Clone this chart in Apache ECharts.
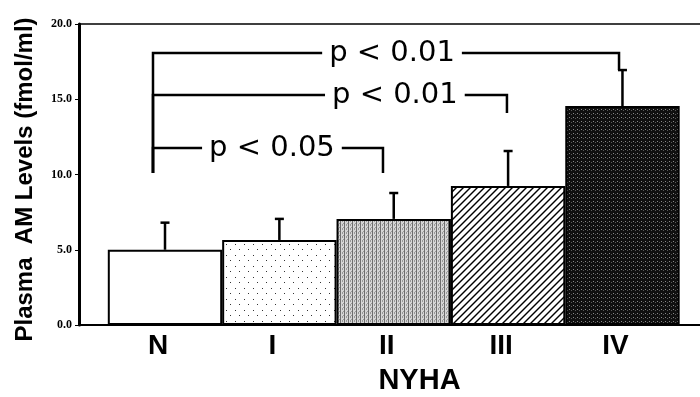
<!DOCTYPE html>
<html><head><meta charset="utf-8">
<script src="https://cdn.jsdelivr.net/npm/echarts@6/dist/echarts.min.js"></script>
<style>html,body{margin:0;padding:0;background:#fff}#c{width:700px;height:397px}</style>
</head><body><div id="c"></div>
<script>
// ---- data ----
const categories = ['N', 'I', 'II', 'III', 'IV'];
const means = [5.0, 5.65, 7.05, 9.24, 14.55];
const errTops = [6.8, 7.05, 8.77, 11.56, 16.94];
const yTickValues = [0, 5, 10, 15, 20];
const pLabels = ['p < 0.05', 'p < 0.01', 'p < 0.01'];
const pTargets = [2, 3, 4];          // compared group index (II, III, IV) vs N
const pLevels = [11.76, 15.28, 18.07];
const pDrops = [10.1, 14.09, 16.94];
const pBase = 10.1;

// ---- styling / layout constants ----
const X_MIN = -0.752, X_MAX = 4.678;
const LEFT_LEG = -0.105;
const RIGHT_NUDGE = [-0.094, -0.01, -0.03];
const LABEL_X = [0.935, 2.01, 1.985];

function makeTile(w, h, draw) {
  const c = document.createElement('canvas'); c.width = w; c.height = h;
  draw(c.getContext('2d'), w, h); return c;
}
const dotTile = makeTile(9, 11, (g, w, h) => {
  g.fillStyle = '#fff'; g.fillRect(0, 0, w, h);
  g.fillStyle = '#333'; g.fillRect(1, 2, 1, 1); g.fillRect(5, 7, 1, 1);
});
const greyTile = makeTile(4, 4, (g, w, h) => {
  g.fillStyle = '#d6d6d6'; g.fillRect(0, 0, w, h);
  g.fillStyle = '#6e6e6e'; g.fillRect(0, 0, 1, 4);
  g.fillStyle = '#999'; g.fillRect(2, 0, 1, 2); g.fillRect(3, 3, 1, 1);
});
const hatchTile = makeTile(7, 7, (g, w, h) => {
  g.fillStyle = '#fff'; g.fillRect(0, 0, w, h);
  g.strokeStyle = '#000'; g.lineWidth = 1.4;
  for (const o of [-w, 0, w]) { g.beginPath(); g.moveTo(o - 1, h + 1); g.lineTo(o + w + 1, -1); g.stroke(); }
});
const darkTile = makeTile(4, 4, (g, w, h) => {
  g.fillStyle = '#101010'; g.fillRect(0, 0, w, h);
  g.fillStyle = '#8a8a8a'; g.fillRect(1, 1, 1, 1);
  g.fillStyle = '#5a5a5a'; g.fillRect(3, 2, 1, 1);
});
const fills = ['#fff',
  { image: dotTile, repeat: 'repeat' },
  { image: greyTile, repeat: 'repeat' },
  { image: hatchTile, repeat: 'repeat' },
  { image: darkTile, repeat: 'repeat' }];

const chart = echarts.init(document.getElementById('c'), null, { renderer: 'canvas' });
chart.setOption({
  animation: false,
  backgroundColor: '#fff',
  grid: { left: 79, right: 0, top: 24, bottom: 72, containLabel: false, outerBoundsMode: 'none' },
  xAxis: [{
    type: 'value', min: X_MIN, max: X_MAX, position: 'bottom',
    axisLine: { show: true, onZero: false, lineStyle: { color: '#000', width: 2 } },
    axisTick: { show: false },
    splitLine: { show: false },
    axisLabel: {
      customValues: [0, 1, 2, 3, 4],
      formatter: v => categories[Math.round(v)] || '',
      color: '#000', fontFamily: 'Liberation Sans', fontWeight: 'bold', fontSize: 28,
      margin: 7, padding: [0, 14, 0, 0]
    },
    name: 'NYHA', nameLocation: 'middle', nameGap: 41,
    nameTextStyle: { color: '#000', fontFamily: 'Liberation Sans', fontWeight: 'bold', fontSize: 29, padding: [0, 0, 0, 60] }
  }, {
    type: 'value', min: X_MIN, max: X_MAX, position: 'top',
    axisLine: { show: true, onZero: false, lineStyle: { color: '#000', width: 1.5 } },
    axisTick: { show: false }, axisLabel: { show: false }, splitLine: { show: false }
  }],
  yAxis: {
    type: 'value', min: 0, max: 20, interval: 5,
    axisLine: { show: true, onZero: false, lineStyle: { color: '#000', width: 3 } },
    axisTick: { show: true, length: 4, lineStyle: { color: '#000', width: 1 } },
    splitLine: { show: false },
    axisLabel: {
      formatter: v => v.toFixed(1), color: '#000',
      fontFamily: 'Liberation Serif', fontWeight: 'bold', fontSize: 12, margin: 7
    },
    name: 'Plasma  AM Levels (fmol/ml)', nameLocation: 'middle', nameGap: 42,
    nameTextStyle: { color: '#000', fontFamily: 'Liberation Sans', fontWeight: 'bold', fontSize: 24, padding: [0, 10, 0, 0] }
  },
  series: [{
    type: 'bar',
    barWidth: 114.4,
    data: means.map((v, i) => ({ value: [i, v], itemStyle: { color: fills[i] } })),
    itemStyle: { borderColor: '#000', borderWidth: 2 },
    z: 2
  }, {
    type: 'custom',
    data: means.map((v, i) => [i, v, errTops[i]]),
    encode: { x: 0, y: [1, 2] },
    z: 3,
    renderItem(params, api) {
      const x = api.value(0), m = api.value(1), e = api.value(2);
      const p0 = api.coord([x, m]), p1 = api.coord([x, e]);
      const cap = 4.5;
      return { type: 'group', children: [
        { type: 'line', shape: { x1: p0[0], y1: p0[1], x2: p1[0], y2: p1[1] }, style: { stroke: '#000', lineWidth: 2.5 } },
        { type: 'line', shape: { x1: p1[0] - cap, y1: p1[1], x2: p1[0] + cap, y2: p1[1] }, style: { stroke: '#000', lineWidth: 2.5 } }
      ] };
    }
  }, {
    type: 'custom',
    data: pLabels.map((l, i) => [pTargets[i], pLevels[i], pDrops[i]]),
    encode: { x: 0, y: [1, 2] },
    z: 4,
    renderItem(params, api) {
      const i = params.dataIndex;
      const xr = api.value(0) + RIGHT_NUDGE[i];
      const lvl = api.value(1), drop = api.value(2);
      const a = api.coord([LEFT_LEG, pBase]), b = api.coord([LEFT_LEG, lvl]);
      const c = api.coord([xr, lvl]), d = api.coord([xr, drop]);
      const t = api.coord([LABEL_X[i], lvl]);
      return { type: 'group', children: [
        { type: 'polyline', shape: { points: [a, b, c, d] }, style: { stroke: '#000', lineWidth: 2.5, fill: 'none' } },
        { type: 'text', x: t[0], y: t[1], style: {
          text: pLabels[i], align: 'center', verticalAlign: 'middle', fill: '#000',
          font: '29px "DejaVu Sans"', backgroundColor: '#fff', padding: [0, 7]
        } }
      ] };
    }
  }]
});
</script>
</body></html>
